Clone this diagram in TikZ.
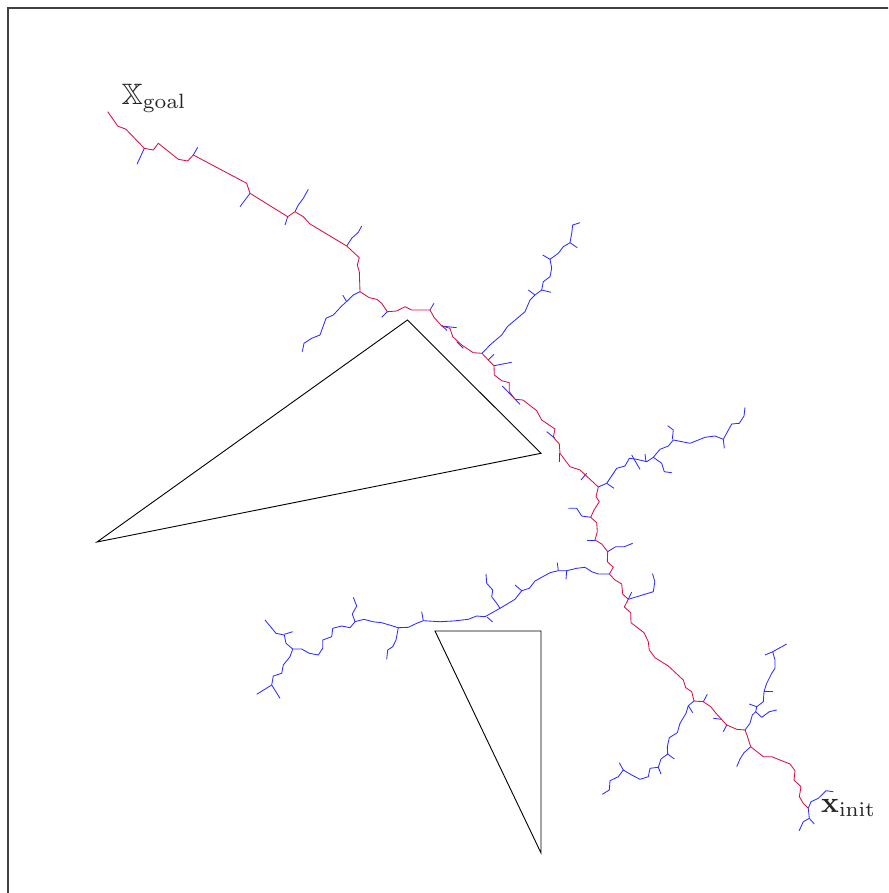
\documentclass[tikz,border=0pt]{standalone}
\usepackage{amssymb}
\definecolor{pathred}{RGB}{215,15,70}
\definecolor{treeblue}{RGB}{45,45,255}
\begin{document}
\begin{tikzpicture}[x=1pt,y=-1pt,
  solpath/.style={draw=pathred,line width=0.85pt,line join=round},
  branch/.style={draw=treeblue,line width=0.85pt,line join=round},
  obstacle/.style={draw=black,line width=0.9pt,line join=miter},
  framebox/.style={draw=black!75,line width=1.1pt},
  lbl/.style={inner sep=0pt,scale=2.95,anchor=base west,text=black!85}]
\useasboundingbox (0,0) rectangle (888,893);
\clip (0,0) rectangle (888,893);
\draw[framebox] (8,8) rectangle (900,905);
% obstacles
\draw[obstacle] (407.5,320) -- (541,453.3) -- (97,542) -- cycle;
\draw[obstacle] (435,631) -- (541,631) -- (541,853) -- cycle;
% blue tree branches
\draw[branch] (144.3,148.3) -- (137,164.3);
\draw[branch] (193.3,155) -- (197.7,147.3);
\draw[branch] (250,193.3) -- (240,206.7);
\draw[branch] (287.7,216.7) -- (285,225);
\draw[branch] (295,211.7) -- (298.3,205) -- (303.3,198.3) -- (308.3,189.3);
\draw[branch] (346.7,246) -- (351.7,238.3) -- (358.3,232.3) -- (361.7,226);
\draw[branch] (360,291.7) -- (353.3,295) -- (348.3,300) -- (341.7,306) -- (333.3,315) -- (326,318.3) -- (320,335) -- (311.7,338.3) -- (304,343.3) -- (302.3,351.7);
\draw[branch] (346.7,301.7) -- (342.7,295);
\draw[branch] (387.3,311.7) -- (381.7,317.3);
\draw[branch] (430,310) -- (434,303.3);
\draw[branch] (441.7,326) -- (456.7,327.7);
\draw[branch] (441.7,325.5) -- (447,330.5);
\draw[branch] (456.7,341.7) -- (463.3,348.3);
\draw[branch] (482,353.3) -- (490,345) -- (501.7,335) -- (507.3,326.7) -- (525,311.7) -- (530,300) -- (535,295) -- (541.7,290) -- (543.3,281.7) -- (550,276.7) -- (551.7,268.3) -- (550,259.3) -- (558.3,253.3) -- (563.3,246.7) -- (570,242.7) -- (571.7,233.3) -- (572.7,225) -- (580,222.7);
\draw[branch] (535,295) -- (528.3,290);
\draw[branch] (541.7,290) -- (551,292.3);
\draw[branch] (550,259.3) -- (542.7,255);
\draw[branch] (570,242.7) -- (577.3,247.7);
\draw[branch] (488.3,360) -- (494,354.3);
\draw[branch] (494,365.7) -- (511.7,362.3);
\draw[branch] (502.3,386) -- (520,404.3);
\draw[branch] (546.7,431.7) -- (555,438.3);
\draw[branch] (559.3,453.3) -- (559.3,461.7);
\draw[branch] (586.7,473.3) -- (581,480);
\draw[branch] (598.3,487) -- (606.7,483.3) -- (616.7,468.3) -- (625,466) -- (629.3,458.3) -- (636.7,459.3) -- (646.7,461.7) -- (653.3,457.3) -- (660,449.3) -- (668.3,446) -- (673.3,440) -- (690,443.3) -- (705,437.3) -- (715,436) -- (723.3,439.3) -- (731.7,424) -- (739.3,423.3) -- (744,416) -- (745,407.3);
\draw[branch] (606.7,483.3) -- (614,488.3);
\draw[branch] (631.7,455) -- (640,469.3);
\draw[branch] (645,454) -- (646,461.7);
\draw[branch] (653.3,457.3) -- (661.7,463.3) -- (664.3,471.7) -- (671.7,472.7);
\draw[branch] (672.3,439.3) -- (673.3,430) -- (667.7,425.7);
\draw[branch] (723.3,439.3) -- (724.3,448.3);
\draw[branch] (590.7,517.3) -- (581.7,516) -- (576.7,508.3) -- (568.3,508.3);
\draw[branch] (595,540) -- (586.7,540);
\draw[branch] (607.7,551.7) -- (615.7,546.7) -- (624.3,546.7) -- (632.7,543.3);
\draw[branch] (609.3,574) -- (598.3,574) -- (591.7,571.7) -- (585,567.3) -- (576.7,568.3) -- (566.7,570.7) -- (558.3,570.7) -- (550,572.7) -- (535,581) -- (529.3,588.3) -- (521.7,590.7) -- (515,599.3) -- (500,608.3) -- (485,616.7) -- (476.7,616) -- (468.3,619.3) -- (453.3,621) -- (440,621.7) -- (423.3,620.7) -- (416.7,623.3) -- (408.3,627.3) -- (398.3,627.7) -- (381.7,622.7) -- (372.7,621.7) -- (364,619.3) -- (355,621.7) -- (350,627.7) -- (341.7,626) -- (332.7,628.3) -- (331.7,636.7) -- (322.7,640) -- (322.7,648.3) -- (318.3,655) -- (309.3,653.3) -- (301.7,649) -- (292.7,649) -- (286,643.3) -- (284.3,635) -- (276,633.3) -- (265,620);
\draw[branch] (557.3,562.7) -- (558.3,570.7);
\draw[branch] (566.7,570.7) -- (566,579.3);
\draw[branch] (521.7,590.7) -- (515,585);
\draw[branch] (500,608.3) -- (496.7,603.3) -- (491.7,596.7) -- (492.7,590) -- (486.7,583.3) -- (486,574);
\draw[branch] (487,617) -- (492.7,622);
\draw[branch] (423.3,620.7) -- (421.7,611.7);
\draw[branch] (355,621.7) -- (352.3,614) -- (356.7,606) -- (353.3,597.3);
\draw[branch] (398.3,627.7) -- (396,640) -- (392.7,646.7) -- (387.7,650) -- (386.7,659.3);
\draw[branch] (284.3,634.3) -- (292.7,631.7);
\draw[branch] (292.7,649) -- (290,656.7) -- (283.3,665) -- (281.7,673.3) -- (273.3,676) -- (271.7,685) -- (256.7,694.3);
\draw[branch] (271.7,685) -- (280,698.3);
\draw[branch] (628.3,599.3) -- (653.3,591.7) -- (654.8,581.7) -- (652.5,573.5);
\draw[branch] (628.3,599.3) -- (631.7,592);
\draw[branch] (694,701) -- (688.3,705.7) -- (686,713.3) -- (680,723.3) -- (677.3,732.7) -- (669.3,737.7) -- (667.3,746.7) -- (667.7,754) -- (661,759) -- (658.3,767.3) -- (650,768.3) -- (648.3,776.7) -- (640,779.3) -- (631.7,775) -- (623.3,770) -- (618.3,776.7) -- (610,780.7) -- (609.3,790) -- (602.3,794.3);
\draw[branch] (688.3,705.7) -- (692.7,712.7);
\draw[branch] (667.7,754) -- (674.3,759);
\draw[branch] (658.3,767.3) -- (661,774);
\draw[branch] (623.3,770) -- (619.3,762.7);
\draw[branch] (703.3,701.7) -- (707.3,694.3);
\draw[branch] (713.3,718.3) -- (721.7,719.3);
\draw[branch] (726.7,725) -- (723.3,731.7);
\draw[branch] (745,730) -- (750,723.3) -- (752.3,715) -- (755.7,711.7) -- (756.7,706.7) -- (763.3,701.7) -- (764,691.7) -- (766.7,683.3) -- (771.7,673.3) -- (775,668.3) -- (775,660) -- (772.7,651.7) -- (786.7,644);
\draw[branch] (772.7,651.7) -- (765,655);
\draw[branch] (764,691.7) -- (772.7,691.7);
\draw[branch] (756.7,706.7) -- (749.3,704);
\draw[branch] (755.7,711.7) -- (761.7,717.3) -- (769.3,711.7) -- (776.7,710);
\draw[branch] (750.7,746.7) -- (744,752.7) -- (740,759) -- (736.7,766.7);
\draw[branch] (808.3,808.3) -- (811,801.7) -- (818.3,798.3) -- (826,790.7) -- (833.3,791.7);
\draw[branch] (808.3,808.3) -- (809.3,818.3) -- (803.3,821.7) -- (799,831);
\draw[branch] (809.3,818.3) -- (814.3,824);
% solution path
\draw[solpath] (107.7,111.7) -- (117.7,126) -- (126,129.3) -- (144.3,148.3) -- (153.3,150) -- (158.3,143.3) -- (178.3,159.3) -- (187.7,161) -- (193.3,155) -- (246.7,183.3) -- (250,193.3) -- (287.7,216.7) -- (295,211.7) -- (303.3,216.7) -- (310,224) -- (346.7,246) -- (359.3,257.7) -- (357.3,265) -- (359.3,271.7) -- (360,291.7) -- (369.3,297.7) -- (376.7,299.3) -- (381.7,303.3) -- (387.3,311.7) -- (396.7,311) -- (405,306.7) -- (411.7,310) -- (430,310) -- (434,317.3) -- (441.7,326) -- (450,328.3) -- (452.7,336.7) -- (461.7,345) -- (473.3,352.7) -- (482,353.3) -- (488.3,360) -- (494,365.7) -- (494.3,375) -- (501.7,380.7) -- (509.3,382.7) -- (509.3,391.7) -- (515,399.3) -- (523,400) -- (536.7,410.7) -- (541.7,420) -- (555,429) -- (553.3,437.3) -- (559.3,444) -- (560,453.3) -- (570,466.7) -- (580,470) -- (598.3,487) -- (596,496.7) -- (599.3,501.7) -- (594,510) -- (590.7,517.3) -- (596.7,522.7) -- (597.3,531.7) -- (595,540) -- (601.7,544) -- (607.7,551.7) -- (607.3,561.7) -- (613.3,567.3) -- (609.3,574) -- (615,580) -- (621.7,584) -- (622.7,594) -- (628.3,599.3) -- (624.3,607) -- (630.7,612.7) -- (631,622.7) -- (644,632.7) -- (648.3,641.7) -- (649.3,650) -- (655,657.7) -- (668.3,666) -- (683.3,680) -- (685.7,687.7) -- (691.7,691.7) -- (694,701) -- (703.3,701.7) -- (710.7,706.7) -- (716,713.3) -- (726.7,725) -- (736.7,729.3) -- (745,730) -- (747.3,736) -- (750.7,746.7) -- (763.3,756.7) -- (771.7,756.7) -- (790,764) -- (795,770.7) -- (794,780) -- (801,786.7) -- (799.3,796.7) -- (803.3,803.3) -- (808.3,808.3);
% labels
\node[lbl] (goal) at (121,104.5) {$\mathbb{X}_{\mathrm{goal}}$};
\node[lbl] (init) at (820.5,812.5) {$\mathbf{x}_{\mathrm{init}}$};
\end{tikzpicture}
\end{document}
